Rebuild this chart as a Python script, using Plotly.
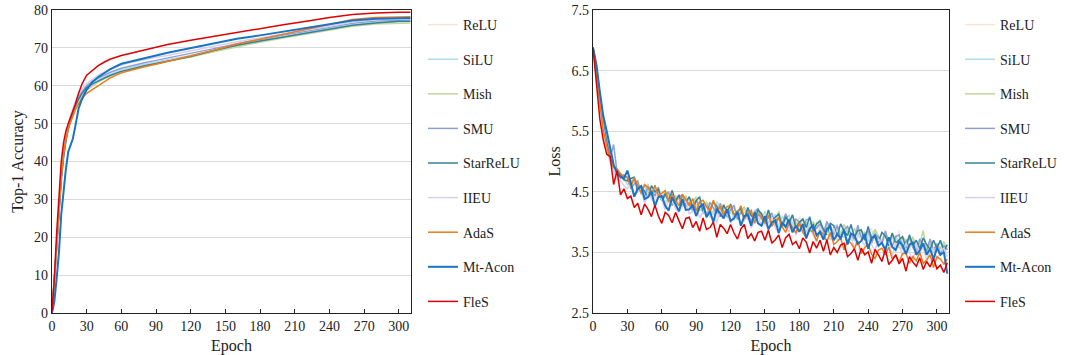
import plotly.graph_objects as go

names = ["ReLU", "SiLU", "Mish", "SMU", "StarReLU", "IIEU", "AdaS", "Mt-Acon", "FleS"]
colors = ["#fbe3d3", "#b2dbe8", "#c3d69b", "#8e9fd4", "#31849b", "#d8cfe9", "#ee7a1a", "#1a73c4", "#dd0000"]
widths = [1.5, 1.5, 1.5, 1.5, 1.5, 1.5, 1.5, 2.0, 1.5]

acc_epochs = [0, 2, 4, 6, 8, 10, 12, 14, 16, 18, 20, 23, 26, 30, 35, 40, 45, 50, 60, 70, 80, 90, 100,
              120, 140, 160, 180, 200, 220, 240, 260, 280, 300, 310]

acc_relu = [0.3, 7.6, 17.6, 26.8, 35.8, 41.8, 45.8, 48.8, 51, 53, 54.5, 56.3, 57.8, 59.2, 60.3, 61.3, 62.1, 62.8,
            64, 64.8, 65.5, 66.1, 66.7, 67.8, 69.2, 70.5, 71.7, 72.8, 73.8, 74.8, 75.9, 76.5, 76.8, 76.8]
acc_silu = [0.3, 7.8, 17.8, 27, 36, 42, 46, 49, 51.2, 53.2, 54.7, 56.5, 58, 59.3, 60.5, 61.5, 62.3, 63,
            64.2, 65, 65.7, 66.3, 66.9, 68, 69.4, 70.7, 71.9, 73, 74, 75, 76.1, 76.7, 77, 77]
acc_mish = [0.3, 7.5, 17.5, 26.5, 35.5, 41.5, 45.5, 48.5, 50.8, 52.8, 54.2, 56, 57.4, 58.8, 60, 61, 61.8, 62.5,
            63.6, 64.5, 65.2, 65.9, 66.5, 67.6, 69, 70.3, 71.5, 72.6, 73.6, 74.6, 75.7, 76.3, 76.6, 76.6]
acc_smu = [0.3, 8, 18, 27, 36, 42, 46, 49, 51.5, 53.5, 55, 57, 58.5, 60, 61.2, 62, 62.8, 63.5,
           64.6, 65.4, 66.1, 66.7, 67.3, 68.4, 69.8, 71.1, 72.3, 73.4, 74.4, 75.4, 76.5, 77.1, 77.4, 77.4]
acc_starrelu = [0.3, 7.5, 17, 26, 35, 41, 45.5, 48.5, 51, 53, 54.5, 56.5, 58, 59.5, 60.5, 61.3, 62, 62.7,
                63.8, 64.6, 65.3, 65.9, 66.5, 67.7, 69.3, 70.7, 71.8, 72.8, 73.8, 74.8, 76, 76.6, 77, 77]
acc_iieu = [0.3, 8, 18.5, 28, 37, 43, 47, 50, 52, 54, 55.8, 57.8, 59.2, 60.6, 61.8, 62.8, 63.6, 64.3,
            65.5, 66.3, 67, 67.5, 68, 69.1, 70.4, 71.6, 72.7, 73.7, 74.7, 75.7, 76.8, 77.4, 77.7, 77.7]
acc_adas = [0.3, 8, 18, 27, 36, 42, 46, 48.7, 50.5, 52, 53.5, 55.3, 56.7, 58, 59, 60, 61, 62,
            63.4, 64.3, 65, 65.7, 66.4, 67.8, 69.4, 71, 72.3, 73.6, 75, 76.3, 77.5, 78, 78.2, 78.2]
acc_mtacon = [0, 3, 9, 16, 26, 33, 38, 42.5, 44.5, 46, 49, 54, 56.5, 59, 61, 62.3, 63.3, 64.3,
              65.8, 66.6, 67.3, 68, 68.7, 70, 71.3, 72.4, 73.3, 74.3, 75.3, 76.2, 77.2, 77.7, 77.9, 77.9]
acc_fles = [0.5, 9, 21, 31, 40, 45, 48, 50, 51.5, 53, 55, 58, 60.5, 62.8, 64, 65.3, 66.2, 67,
            68, 68.7, 69.5, 70.3, 70.9, 72, 73, 74, 75.2, 76.1, 77, 78, 78.8, 79.2, 79.4, 79.4]

loss_epochs = list(range(0, 310, 3))

loss_relu = [6.88, 6.52, 6.05, 5.62, 5.30, 5.06, 4.92, 4.84, 4.76, 4.70,
             4.75, 4.58, 4.49, 4.63, 4.56, 4.43, 4.63, 4.45, 4.39, 4.54,
             4.46, 4.28, 4.39, 4.46, 4.29, 4.32, 4.43, 4.21, 4.34, 4.31,
             4.19, 4.38, 4.20, 4.14, 4.29, 4.22, 4.07, 4.27, 4.21, 4.12,
             4.26, 4.13, 4.03, 4.19, 4.16, 4.03, 4.22, 4.03, 4.07, 4.16,
             3.94, 4.10, 4.11, 4.00, 3.92, 4.12, 4.02, 3.91, 4.04, 3.93,
             4.09, 3.86, 3.95, 3.98, 3.81, 3.99, 3.88, 3.82, 4.00, 3.90,
             3.80, 3.95, 3.72, 3.87, 3.89, 3.76, 3.81, 3.90, 3.69, 3.74,
             3.84, 3.89, 3.64, 3.79, 3.70, 3.87, 3.62, 3.72, 3.57, 3.86,
             3.59, 3.70, 3.52, 3.71, 3.64, 3.52, 3.70, 3.55, 3.49, 3.65,
             3.58, 3.49, 3.62, 3.59]
loss_silu = [6.88, 6.58, 6.12, 5.68, 5.35, 5.08, 4.95, 4.85, 4.78, 4.72,
             4.62, 4.67, 4.71, 4.49, 4.56, 4.49, 4.63, 4.38, 4.52, 4.53,
             4.41, 4.31, 4.46, 4.42, 4.23, 4.44, 4.35, 4.27, 4.41, 4.21,
             4.29, 4.33, 4.13, 4.34, 4.20, 4.15, 4.34, 4.24, 4.10, 4.20,
             4.25, 4.05, 4.20, 4.13, 4.25, 4.06, 4.02, 4.20, 4.12, 4.04,
             4.18, 3.99, 4.03, 4.13, 3.91, 4.08, 4.04, 3.90, 4.12, 3.93,
             3.96, 4.06, 3.83, 3.98, 3.82, 3.99, 3.93, 3.78, 4.01, 3.75,
             3.92, 3.95, 3.81, 3.74, 3.91, 3.83, 3.69, 3.91, 3.76, 3.84,
             3.68, 3.78, 3.87, 3.67, 3.69, 3.82, 3.60, 3.75, 3.77, 3.62,
             3.68, 3.54, 3.74, 3.67, 3.55, 3.73, 3.56, 3.58, 3.70, 3.50,
             3.62, 3.65, 3.51, 3.59]
loss_mish = [6.88, 6.55, 6.08, 5.65, 5.32, 5.10, 4.92, 4.80, 4.76, 4.68,
             4.70, 4.59, 4.71, 4.63, 4.45, 4.61, 4.49, 4.41, 4.60, 4.48,
             4.37, 4.52, 4.39, 4.27, 4.43, 4.39, 4.26, 4.44, 4.26, 4.31,
             4.42, 4.19, 4.22, 4.33, 4.26, 4.12, 4.28, 4.19, 4.30, 4.12,
             4.15, 4.26, 4.04, 4.20, 4.25, 4.07, 4.13, 4.01, 4.17, 4.12,
             3.99, 4.19, 4.04, 3.99, 4.18, 3.95, 4.06, 4.11, 3.88, 4.00,
             3.93, 4.05, 3.98, 3.84, 4.01, 3.89, 4.04, 3.82, 3.93, 3.95,
             3.78, 3.92, 3.79, 3.96, 3.85, 3.70, 3.90, 3.78, 3.89, 3.73,
             3.82, 3.66, 3.88, 3.77, 3.66, 3.79, 3.67, 3.81, 3.69, 3.57,
             3.75, 3.70, 3.57, 3.76, 3.58, 3.64, 3.86, 3.53, 3.65, 3.50,
             3.65, 3.56, 3.68, 3.54]
loss_smu = [6.88, 6.52, 6.02, 5.60, 5.35, 5.05, 5.28, 4.82, 4.72, 4.78,
            4.73, 4.55, 4.63, 4.68, 4.49, 4.41, 4.59, 4.52, 4.43, 4.58,
            4.35, 4.42, 4.50, 4.28, 4.33, 4.42, 4.45, 4.26, 4.32, 4.18,
            4.37, 4.23, 4.31, 4.11, 4.33, 4.23, 4.14, 4.31, 4.17, 4.09,
            4.21, 4.28, 4.05, 4.17, 4.08, 4.20, 3.99, 4.16, 4.23, 4.05,
            3.99, 4.08, 4.15, 3.93, 4.08, 3.96, 4.14, 3.99, 3.90, 4.05,
            4.00, 3.84, 4.04, 4.05, 3.86, 3.90, 3.97, 3.80, 4.01, 3.89,
            3.82, 3.94, 3.72, 3.88, 3.93, 3.79, 3.72, 3.95, 3.73, 3.80,
            3.86, 3.65, 3.80, 3.75, 3.65, 3.85, 3.67, 3.60, 3.76, 3.79,
            3.55, 3.69, 3.74, 3.58, 3.49, 3.72, 3.63, 3.52, 3.72, 3.54,
            3.64, 3.49, 3.61, 3.54]
loss_starrelu = [6.88, 6.55, 6.05, 5.62, 5.30, 5.05, 4.92, 4.85, 4.78, 4.70,
                 4.68, 4.72, 4.74, 4.52, 4.60, 4.50, 4.41, 4.60, 4.50, 4.54,
                 4.35, 4.47, 4.35, 4.52, 4.35, 4.45, 4.26, 4.33, 4.42, 4.24,
                 4.35, 4.42, 4.16, 4.28, 4.19, 4.33, 4.26, 4.09, 4.28, 4.16,
                 4.30, 4.10, 4.18, 4.22, 4.03, 4.24, 4.11, 4.05, 4.20, 4.14,
                 3.99, 4.20, 4.02, 4.08, 4.13, 3.91, 4.09, 3.99, 4.12, 3.91,
                 4.00, 4.05, 3.91, 4.09, 3.85, 3.97, 4.02, 3.88, 3.79, 3.98,
                 3.94, 3.77, 3.97, 3.85, 3.78, 3.96, 3.75, 3.86, 3.87, 3.70,
                 3.93, 3.73, 3.79, 3.67, 3.83, 3.77, 3.61, 3.82, 3.65, 3.71,
                 3.76, 3.58, 3.79, 3.62, 3.70, 3.56, 3.74, 3.63, 3.55, 3.70,
                 3.57, 3.70, 3.53, 3.63]
loss_iieu = [6.88, 6.48, 5.98, 5.55, 5.22, 4.98, 4.85, 4.72, 4.68, 4.60,
             4.55, 4.62, 4.42, 4.51, 4.55, 4.31, 4.47, 4.39, 4.30, 4.47,
             4.37, 4.20, 4.36, 4.39, 4.22, 4.17, 4.26, 4.35, 4.14, 4.17,
             4.27, 4.07, 4.17, 4.28, 4.08, 4.17, 3.98, 4.20, 4.08, 4.15,
             3.98, 4.12, 4.17, 3.97, 4.03, 4.10, 3.90, 4.04, 4.10, 3.93,
             4.00, 3.88, 4.08, 3.91, 3.81, 4.01, 3.93, 3.84, 4.00, 3.78,
             3.94, 3.90, 3.74, 3.94, 3.79, 3.68, 3.93, 3.79, 3.84, 3.70,
             3.90, 3.71, 3.73, 3.85, 3.63, 3.78, 3.56, 3.79, 3.72, 3.61,
             3.79, 3.63, 3.53, 3.72, 3.65, 3.53, 3.71, 3.43, 3.65, 3.62,
             3.46, 3.65, 3.50, 3.35, 3.64, 3.49, 3.59, 3.37, 3.53, 3.56,
             3.38, 3.53, 3.57, 3.43]
loss_adas = [6.88, 6.45, 5.95, 5.50, 5.25, 5.05, 4.90, 4.88, 4.80, 4.75,
             4.74, 4.59, 4.73, 4.59, 4.48, 4.62, 4.57, 4.44, 4.61, 4.43,
             4.47, 4.52, 4.33, 4.46, 4.36, 4.27, 4.46, 4.37, 4.27, 4.39,
             4.18, 4.33, 4.36, 4.25, 4.18, 4.36, 4.19, 4.25, 4.11, 4.26,
             4.27, 4.13, 4.15, 4.27, 4.06, 4.14, 4.19, 3.98, 4.13, 4.08,
             3.98, 4.12, 3.93, 4.02, 4.06, 3.92, 3.83, 3.98, 3.92, 3.82,
             3.99, 3.83, 3.75, 3.87, 3.83, 3.69, 3.85, 3.80, 3.68, 3.83,
             3.63, 3.68, 3.74, 3.54, 3.70, 3.65, 3.56, 3.69, 3.48, 3.58,
             3.63, 3.47, 3.40, 3.54, 3.57, 3.46, 3.59, 3.39, 3.46, 3.34,
             3.48, 3.49, 3.32, 3.43, 3.36, 3.50, 3.32, 3.37, 3.46, 3.25,
             3.43, 3.39, 3.31, 3.39]
loss_mtacon = [6.88, 6.60, 6.15, 5.75, 5.50, 5.25, 4.95, 4.80, 4.75, 4.72,
               4.85, 4.65, 4.42, 4.55, 4.59, 4.38, 4.41, 4.51, 4.26, 4.41,
               4.43, 4.27, 4.19, 4.41, 4.30, 4.18, 4.38, 4.20, 4.21, 4.28,
               4.10, 4.25, 4.29, 4.08, 4.18, 4.00, 4.22, 4.13, 4.06, 4.21,
               4.02, 4.06, 4.17, 3.94, 4.10, 4.12, 3.94, 4.16, 3.98, 3.94,
               4.10, 3.88, 3.99, 4.03, 3.82, 4.00, 3.92, 4.04, 3.83, 3.94,
               3.84, 3.97, 3.73, 3.89, 3.95, 3.78, 3.84, 3.71, 3.89, 3.93,
               3.70, 3.80, 3.73, 3.87, 3.63, 3.81, 3.78, 3.64, 3.69, 3.80,
               3.56, 3.74, 3.76, 3.61, 3.66, 3.54, 3.75, 3.59, 3.54, 3.68,
               3.62, 3.47, 3.63, 3.66, 3.46, 3.53, 3.65, 3.46, 3.56, 3.39,
               3.57, 3.46, 3.51, 3.15]
loss_fles = [6.88, 6.30, 5.70, 5.35, 5.12, 5.08, 4.62, 4.85, 4.45, 4.55,
             4.39, 4.43, 4.24, 4.31, 4.12, 4.30, 4.21, 4.09, 4.28, 4.10,
             3.98, 4.16, 4.11, 3.99, 4.16, 4.02, 3.89, 4.06, 4.08, 3.91,
             4.01, 3.85, 4.07, 3.88, 3.91, 4.00, 3.75, 3.96, 3.90, 3.81,
             3.96, 3.82, 3.72, 3.89, 3.96, 3.73, 3.81, 3.69, 3.83, 3.85,
             3.70, 3.87, 3.65, 3.71, 3.79, 3.58, 3.74, 3.80, 3.63, 3.68,
             3.56, 3.74, 3.67, 3.49, 3.68, 3.57, 3.70, 3.52, 3.71, 3.46,
             3.58, 3.50, 3.62, 3.65, 3.43, 3.48, 3.56, 3.37, 3.57, 3.46,
             3.51, 3.32, 3.55, 3.46, 3.35, 3.55, 3.30, 3.37, 3.46, 3.31,
             3.40, 3.19, 3.43, 3.34, 3.27, 3.41, 3.22, 3.35, 3.26, 3.40,
             3.23, 3.29, 3.17, 3.33]

acc_series = [acc_relu, acc_silu, acc_mish, acc_smu, acc_starrelu, acc_iieu, acc_adas, acc_mtacon, acc_fles]
loss_series = [loss_relu, loss_silu, loss_mish, loss_smu, loss_starrelu, loss_iieu, loss_adas, loss_mtacon, loss_fles]

FONT = "Liberation Serif, Times New Roman, serif"

fig = go.Figure()
for i, n in enumerate(names):
    fig.add_trace(go.Scatter(x=acc_epochs, y=acc_series[i], mode="lines", name=n,
                             line=dict(color=colors[i], width=widths[i]),
                             xaxis="x", yaxis="y", legend="legend", legendgroup="a" + n))
for i, n in enumerate(names):
    fig.add_trace(go.Scatter(x=loss_epochs, y=loss_series[i], mode="lines", name=n,
                             line=dict(color=colors[i], width=widths[i]),
                             xaxis="x2", yaxis="y2", legend="legend2", legendgroup="l" + n))

axis_common = dict(showline=True, linecolor="#222", linewidth=1.2, mirror=True,
                   tickfont=dict(family=FONT, size=14, color="#222"), zeroline=False)
legend_common = dict(font=dict(family=FONT, size=14, color="#222"), bgcolor="rgba(0,0,0,0)",
                     tracegroupgap=13.4, yanchor="top", y=1.0033, xanchor="left", itemwidth=30,
                     maxheight=400)

fig.update_layout(
    width=1065, height=355,
    margin=dict(l=52, r=116, t=10, b=42, autoexpand=False),
    paper_bgcolor="white", plot_bgcolor="white",
    font=dict(family=FONT, size=14, color="#222"),
    xaxis=dict(domain=[0, 0.4002], range=[0, 310.5], tickvals=list(range(0, 301, 30)),
               ticks="inside", ticklen=4, tickcolor="#222", showgrid=False,
               title=dict(text="Epoch", font=dict(family=FONT, size=16), standoff=6), **axis_common),
    yaxis=dict(domain=[0, 1], range=[0, 80], dtick=10, showgrid=True, gridcolor="#d9d9d9",
               title=dict(text="Top-1 Accuracy", font=dict(family=FONT, size=16), standoff=6),
               **axis_common),
    xaxis2=dict(domain=[0.6031, 1], range=[0, 310.5], tickvals=list(range(0, 301, 30)),
                ticks="inside", ticklen=4, tickcolor="#222", showgrid=False, anchor="y2",
                title=dict(text="Epoch", font=dict(family=FONT, size=16), standoff=6), **axis_common),
    yaxis2=dict(domain=[0, 1], range=[2.5, 7.5], tickvals=[2.5, 3.5, 4.5, 5.5, 6.5, 7.5],
                ticktext=["2.5", "3.5", "4.5", "5.5", "6.5", "7.5"], anchor="x2",
                showgrid=True, gridcolor="#d9d9d9",
                title=dict(text="Loss", font=dict(family=FONT, size=16), standoff=6), **axis_common),
    legend=dict(x=0.4136, **legend_common),
    legend2=dict(x=1.0123, **legend_common),
)

fig.write_html("out.html")
